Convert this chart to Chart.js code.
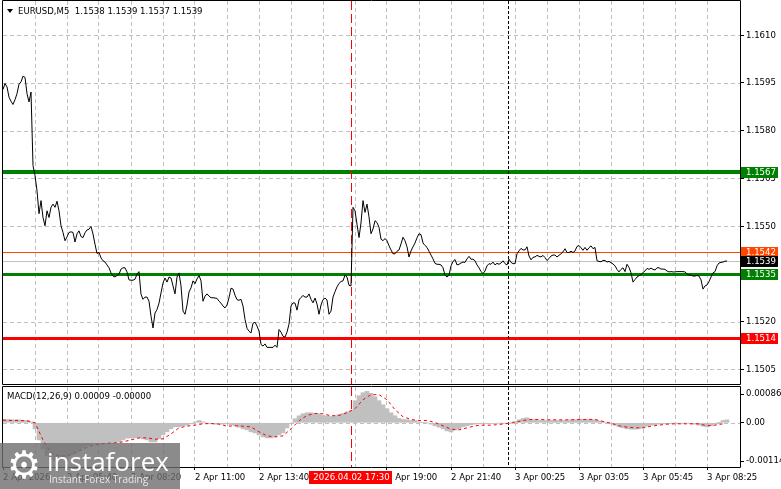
<!DOCTYPE html>
<html>
<head>
<meta charset="utf-8">
<script src="https://cdn.jsdelivr.net/npm/chart.js@4.4.0/dist/chart.umd.min.js"></script>
<style>
  body { margin: 0; background: #fff; }
  #wrap { position: relative; width: 781px; height: 489px; overflow: hidden;
          font-family: 'DejaVu Sans Condensed', 'DejaVu Sans', sans-serif; }
  #main { position: absolute; left: 0; top: 0; }
  #macd { position: absolute; left: 0; top: 386px; }
  .txt { position: absolute; font-size: 9.5px; line-height: 11px; color: #000; white-space: pre; }
  .tri { position: absolute; left: 7px; top: 9px; width: 0; height: 0;
         border-left: 3px solid transparent; border-right: 3px solid transparent; border-top: 4px solid #000; }
  #logo { position: absolute; left: 0; top: 443px; width: 180px; height: 46px; background: rgba(110,110,110,0.8); }
  #logo .gear { position: absolute; left: 5px; top: 3px; width: 38px; height: 38px; font: 38px/38px 'DejaVu Sans', sans-serif;
                color: #fff; text-align: center; }
  #logo .brand { position: absolute; left: 47px; top: 5px; font: 26px/26px 'Open Sans', sans-serif; color: #fff; }
  #logo .slogan { position: absolute; left: 49px; top: 31px; font: 10px/10px 'Open Sans', sans-serif; color: #e8e8e8; white-space: pre; }
</style>
</head>
<body>
<div id="wrap">
  <canvas id="main" width="781" height="386"></canvas>
  <canvas id="macd" width="781" height="103"></canvas>
  <div class="tri"></div>
  <div class="txt" style="left:18px;top:5px">EURUSD,M5  1.1538 1.1539 1.1537 1.1539</div>
  <div class="txt" style="left:7px;top:390px">MACD(12,26,9) 0.00009 -0.00000</div>
  <div id="logo">
    <div class="gear">&#9881;</div>
    <div class="brand">instaforex</div>
    <div class="slogan">Instant Forex Trading</div>
  </div>
</div>
<script>
// close price of every M5 bar (bar 0 = 2 Apr 03:00)
const closes = [
  1.15929,1.15948,1.15937,1.15905,1.15892,1.15882,1.15897,1.15916,1.15946,1.15953,
  1.15971,1.15967,1.15916,1.15890,1.15921,1.15690,1.15659,1.15611,1.15539,1.15580,
  1.15527,1.15501,1.15548,1.15527,1.15559,1.15569,1.15559,1.15578,1.15548,1.15501,
  1.15480,1.15454,1.15466,1.15480,1.15482,1.15480,1.15450,1.15476,1.15485,1.15467,
  1.15464,1.15479,1.15488,1.15490,1.15499,1.15475,1.15443,1.15414,1.15417,1.15400,
  1.15391,1.15387,1.15378,1.15369,1.15353,1.15343,1.15340,1.15345,1.15349,1.15365,
  1.15369,1.15369,1.15356,1.15331,1.15330,1.15330,1.15333,1.15349,1.15357,1.15286,
  1.15270,1.15277,1.15277,1.15264,1.15217,1.15180,1.15227,1.15238,1.15258,1.15290,
  1.15321,1.15337,1.15324,1.15340,1.15337,1.15312,1.15287,1.15340,1.15353,1.15312,
  1.15233,1.15223,1.15252,1.15293,1.15306,1.15328,1.15319,1.15334,1.15345,1.15328,
  1.15264,1.15280,1.15287,1.15280,1.15275,1.15275,1.15274,1.15273,1.15264,1.15258,
  1.15249,1.15243,1.15252,1.15275,1.15305,1.15302,1.15283,1.15269,1.15267,1.15270,
  1.15249,1.15207,1.15179,1.15170,1.15164,1.15195,1.15198,1.15186,1.15170,1.15128,
  1.15123,1.15130,1.15119,1.15119,1.15119,1.15119,1.15126,1.15119,1.15175,1.15167,
  1.15154,1.15151,1.15167,1.15192,1.15249,1.15259,1.15258,1.15236,1.15268,1.15276,
  1.15282,1.15277,1.15277,1.15287,1.15270,1.15259,1.15274,1.15255,1.15223,1.15252,
  1.15269,1.15274,1.15268,1.15223,1.15233,1.15277,1.15294,1.15309,1.15320,1.15326,
  1.15328,1.15346,1.15340,1.15314,1.15312,1.15559,1.15548,1.15506,1.15464,1.15510,
  1.15580,1.15543,1.15569,1.15529,1.15476,1.15491,1.15517,1.15511,1.15496,1.15459,
  1.15454,1.15461,1.15454,1.15438,1.15425,1.15413,1.15413,1.15421,1.15425,1.15444,
  1.15465,1.15454,1.15435,1.15403,1.15422,1.15435,1.15447,1.15463,1.15476,1.15473,
  1.15447,1.15439,1.15433,1.15421,1.15409,1.15397,1.15383,1.15380,1.15380,1.15378,
  1.15369,1.15346,1.15340,1.15346,1.15375,1.15389,1.15395,1.15378,1.15380,1.15384,
  1.15387,1.15386,1.15397,1.15405,1.15396,1.15396,1.15391,1.15378,1.15369,1.15357,
  1.15351,1.15359,1.15375,1.15382,1.15380,1.15387,1.15378,1.15383,1.15380,1.15384,
  1.15391,1.15382,1.15378,1.15396,1.15386,1.15382,1.15382,1.15413,1.15422,1.15430,
  1.15425,1.15425,1.15435,1.15406,1.15394,1.15402,1.15403,1.15408,1.15405,1.15403,
  1.15408,1.15401,1.15392,1.15398,1.15406,1.15409,1.15409,1.15403,1.15408,1.15413,
  1.15419,1.15429,1.15417,1.15417,1.15421,1.15417,1.15422,1.15436,1.15439,1.15432,
  1.15424,1.15433,1.15424,1.15432,1.15438,1.15429,1.15433,1.15391,1.15389,1.15388,
  1.15392,1.15392,1.15387,1.15389,1.15385,1.15381,1.15375,1.15364,1.15356,1.15364,
  1.15369,1.15357,1.15380,1.15370,1.15353,1.15324,1.15332,1.15340,1.15344,1.15348,
  1.15354,1.15359,1.15367,1.15364,1.15368,1.15364,1.15362,1.15369,1.15369,1.15365,
  1.15365,1.15364,1.15359,1.15356,1.15357,1.15356,1.15356,1.15357,1.15357,1.15357,
  1.15357,1.15356,1.15350,1.15346,1.15346,1.15343,1.15343,1.15345,1.15343,1.15331,
  1.15302,1.15312,1.15315,1.15326,1.15340,1.15353,1.15357,1.15375,1.15384,1.15386,
  1.15387,1.15390,1.15390
];

// MACD histogram, one value every 2 bars
const macdHist = [
  0.00010,0.00010,0.00009,0.00009,0.00009,0.00007,0.00007,0.00003,-0.00018,-0.00051,
  -0.00078,-0.00099,-0.00110,-0.00113,-0.00110,-0.00107,-0.00101,-0.00096,-0.00090,-0.00084,
  -0.00075,-0.00069,-0.00066,-0.00063,-0.00063,-0.00063,-0.00061,-0.00061,-0.00060,-0.00057,
  -0.00051,-0.00046,-0.00045,-0.00045,-0.00045,-0.00048,-0.00051,-0.00057,-0.00057,-0.00048,
  -0.00036,-0.00027,-0.00018,-0.00012,-0.00012,-0.00009,-0.00007,-0.00003,0.00003,0.00007,
  0.00003,-0.00001,-0.00003,-0.00004,-0.00003,-0.00004,-0.00003,-0.00006,-0.00009,-0.00013,
  -0.00018,-0.00021,-0.00027,-0.00030,-0.00036,-0.00042,-0.00045,-0.00045,-0.00042,-0.00036,
  -0.00030,-0.00015,-0.00003,0.00012,0.00021,0.00027,0.00030,0.00030,0.00028,0.00027,
  0.00022,0.00021,0.00019,0.00021,0.00025,0.00028,0.00033,0.00036,0.00066,0.00081,
  0.00090,0.00094,0.00088,0.00078,0.00066,0.00054,0.00042,0.00030,0.00021,0.00013,
  0.00010,0.00009,0.00007,0.00007,0.00003,0.00001,0,-0.00004,-0.00009,-0.00013,
  -0.00018,-0.00024,-0.00027,-0.00022,-0.00018,-0.00012,-0.00009,-0.00006,-0.00004,-0.00003,
  -0.00003,-0.00003,-0.00002,-0.00002,-0.00001,-0.00001,-0.00001,0,0.00004,0.00009,
  0.00013,0.00015,0.00010,0.00009,0.00007,0.00007,0.00007,0.00007,0.00007,0.00007,
  0.00007,0.00007,0.00009,0.00009,0.00010,0.00010,0.00010,0.00009,0.00009,0.00006,
  0.00003,0,-0.00003,-0.00007,-0.00012,-0.00015,-0.00018,-0.00019,-0.00019,-0.00018,
  -0.00015,-0.00010,-0.00007,-0.00006,-0.00004,-0.00003,-0.00003,-0.00001,-0.00001,-0.00001,
  -0.00001,-0.00001,-0.00003,-0.00004,-0.00007,-0.00010,-0.00012,-0.00009,-0.00004,0.00001,
  0.00007,0.00009
];

// MACD signal line, one value every 4 bars
const macdSignal = [
  0.00008,0.00007,0.00007,0.00006,0,-0.00051,-0.00090,-0.00099,-0.00099,-0.00090,
  -0.00078,-0.00069,-0.00064,-0.00061,-0.00060,-0.00057,-0.00051,-0.00045,-0.00045,-0.00049,
  -0.00048,-0.00033,-0.00015,-0.00010,-0.00007,-0.00003,-0.00002,-0.00004,-0.00010,-0.00009,
  -0.00010,-0.00012,-0.00027,-0.00039,-0.00042,-0.00039,-0.00018,0.00006,0.00022,0.00028,
  0.00027,0.00021,0.00022,0.00030,0.00042,0.00069,0.00084,0.00084,0.00069,0.00039,
  0.00018,0.00010,0.00007,0.00007,0.00001,-0.00009,-0.00019,-0.00021,-0.00015,-0.00009,
  -0.00007,-0.00007,-0.00005,-0.00002,0.00001,0.00007,0.00010,0.00010,0.00009,0.00009,
  0.00009,0.00009,0.00010,0.00010,0.00010,0.00004,-0.00001,-0.00009,-0.00013,-0.00015,
  -0.00015,-0.00010,-0.00007,-0.00004,-0.00003,-0.00003,-0.00003,-0.00003,-0.00009,-0.00007,
  -0.00003
];
const histStep = 2;
const signalStep = 4;

const timeLabels = ['2 Apr 2026', '2 Apr 05:40', '2 Apr 08:20', '2 Apr 11:00', '2 Apr 13:40', '2 Apr 16:20',
                    '2 Apr 19:00', '2 Apr 21:40', '3 Apr 00:25', '3 Apr 03:05', '3 Apr 05:45', '3 Apr 08:25'];
const priceTicks = [1.1505, 1.1520, 1.1535, 1.1550, 1.1565, 1.1580, 1.1595, 1.1610];
const macdTicks = [-0.00114, 0, 0.00086];
const levelPrices = [1.1567, 1.1542, 1.1539, 1.1535, 1.15147];
const levelTags = ['1.1567', '1.1542', '1.1539', '1.1535', '1.1514'];
const crosshairBar = 174;
const crosshairTime = '2026.04.02 17:30';
const daySeparatorBar = 252.5;

// ---- look ----
const FONT = "'DejaVu Sans Condensed', 'DejaVu Sans', sans-serif";
const FSIZE = 9.5;
const GRID = '#c0c0c0';
const NONE = 'rgba(0,0,0,0)';
const BAR_MAX = 368.5;
const gridBars = [];
for (let b = 16; b <= 352; b += 16) gridBars.push(b);
const labelBars = [0].concat(gridBars);

const levelStyle = [
  { color: '#008000', width: 4, tag: '#008000' },
  { color: '#ff4500', width: 1, tag: '#ff4500' },
  { color: '#c0c0c0', width: 1, tag: '#000000' },
  { color: '#008000', width: 3, tag: '#008000' },
  { color: '#ff0000', width: 3, tag: '#ff0000' }
];

Chart.defaults.font.family = FONT;
Chart.defaults.font.size = FSIZE;
Chart.defaults.color = '#000';

// keep the plot area exactly where the terminal has it
function fixY(s) { s.width = 41; s.paddingTop = 0; s.paddingBottom = 0; }
function fixX(h) { return s => { s.height = h; s.paddingLeft = 0; s.paddingRight = 0; }; }

function clipArea(ctx, a) {
  ctx.beginPath(); ctx.rect(a.left, a.top, a.right - a.left, a.bottom - a.top); ctx.clip();
}

function hGrid(chart, values) {
  const { ctx, chartArea: a, scales: { y } } = chart;
  ctx.save();
  clipArea(ctx, a);
  ctx.strokeStyle = GRID;
  ctx.lineWidth = 1;
  ctx.setLineDash([4, 3]);
  values.forEach(v => {
    const py = Math.round(y.getPixelForValue(v)) + 0.5;
    ctx.beginPath(); ctx.moveTo(a.left, py); ctx.lineTo(a.right, py); ctx.stroke();
  });
  ctx.restore();
}

function markers(chart) {
  const { ctx, chartArea: a, scales: { x } } = chart;
  ctx.save();
  ctx.lineWidth = 1;
  let px = Math.round(x.getPixelForValue(crosshairBar)) + 0.5;
  ctx.strokeStyle = '#ff0000';
  ctx.setLineDash([9, 4]);
  ctx.beginPath(); ctx.moveTo(px, a.top); ctx.lineTo(px, a.bottom); ctx.stroke();
  px = Math.round(x.getPixelForValue(daySeparatorBar)) + 0.5;
  ctx.strokeStyle = '#000';
  ctx.setLineDash([3, 2]);
  ctx.beginPath(); ctx.moveTo(px, a.top); ctx.lineTo(px, a.bottom); ctx.stroke();
  ctx.restore();
}

function frame(chart) {
  const { ctx, chartArea: a } = chart;
  ctx.save();
  ctx.strokeStyle = '#000';
  ctx.lineWidth = 1;
  ctx.setLineDash([]);
  ctx.beginPath();
  ctx.moveTo(a.left - 0.5, a.top - 0.5); ctx.lineTo(a.right + 0.5, a.top - 0.5);
  ctx.lineTo(a.right + 0.5, a.bottom + 0.5); ctx.lineTo(a.left - 0.5, a.bottom + 0.5);
  ctx.closePath();
  ctx.stroke();
  ctx.restore();
}

const mainDecor = {
  id: 'mainDecor',
  beforeDatasetsDraw(chart) {
    const { ctx, chartArea: a, scales: { y } } = chart;
    hGrid(chart, priceTicks);
    ctx.save();
    clipArea(ctx, a);
    levelPrices.forEach((p, i) => {
      const s = levelStyle[i];
      let py = Math.round(y.getPixelForValue(p));
      if (s.width % 2) py += 0.5;
      ctx.strokeStyle = s.color;
      ctx.lineWidth = s.width;
      ctx.beginPath(); ctx.moveTo(a.left, py); ctx.lineTo(a.right, py); ctx.stroke();
    });
    ctx.restore();
    markers(chart);
  },
  afterDraw(chart) {
    const { ctx, chartArea: a, scales: { y } } = chart;
    frame(chart);
    ctx.save();
    ctx.font = FSIZE + 'px ' + FONT;
    ctx.textBaseline = 'middle';
    levelPrices.forEach((p, i) => {
      const py = Math.round(y.getPixelForValue(p));
      ctx.fillStyle = levelStyle[i].tag;
      ctx.fillRect(a.right + 1, py - 5, 37, 11);
      ctx.fillStyle = '#fff';
      ctx.fillText(levelTags[i], a.right + 6, py + 0.5);
    });
    ctx.restore();
  }
};

const macdDecor = {
  id: 'macdDecor',
  beforeDatasetsDraw(chart) {
    hGrid(chart, [0]);
    markers(chart);
  },
  afterDraw(chart) {
    const { ctx, chartArea: a, scales: { x } } = chart;
    frame(chart);
    ctx.save();
    ctx.font = FSIZE + 'px ' + FONT;
    const w = Math.ceil(ctx.measureText(crosshairTime).width) + 6;
    const cx = Math.round(x.getPixelForValue(crosshairBar));
    ctx.fillStyle = '#ff0000';
    ctx.fillRect(cx - Math.round(w / 2), a.bottom + 4, w, 13);
    ctx.fillStyle = '#fff';
    ctx.textBaseline = 'middle';
    ctx.textAlign = 'center';
    ctx.fillText(crosshairTime, cx + 0.5, a.bottom + 10.5);
    ctx.restore();
  }
};

new Chart(document.getElementById('main'), {
  type: 'line',
  data: {
    datasets: [{
      data: closes.map((v, i) => ({ x: i, y: v })),
      borderColor: '#000', borderWidth: 1, pointRadius: 0, tension: 0, fill: false
    }]
  },
  options: {
    responsive: false, animation: false, events: [],
    layout: { padding: { left: 3, top: 1, right: 0, bottom: 0 } },
    plugins: { legend: { display: false }, tooltip: { enabled: false } },
    scales: {
      x: {
        type: 'linear', min: 0, max: BAR_MAX,
        afterBuildTicks: s => { s.ticks = gridBars.map(v => ({ value: v })); },
        afterFit: fixX(2),
        ticks: { display: false },
        grid: { color: GRID, drawTicks: false, tickLength: 0 },
        border: { display: false, dash: [4, 3] }
      },
      y: {
        position: 'right', min: 1.15004, max: 1.16207,
        afterBuildTicks: s => { s.ticks = priceTicks.map(v => ({ value: v })); },
        afterFit: fixY,
        ticks: { callback: v => v.toFixed(4), padding: 2, autoSkip: false },
        grid: { drawOnChartArea: false, tickColor: '#000', tickLength: 4, drawTicks: true },
        border: { display: false }
      }
    }
  },
  plugins: [mainDecor]
});

new Chart(document.getElementById('macd'), {
  type: 'bar',
  data: {
    datasets: [
      {
        type: 'line', order: 1,
        data: macdSignal.map((v, k) => ({ x: k * signalStep, y: v })),
        borderColor: '#ff0000', borderWidth: 1, borderDash: [3, 3], pointRadius: 0, tension: 0, fill: false
      },
      {
        type: 'bar', order: 2,
        data: macdHist.map((v, k) => ({ x: k * histStep, y: v })),
        backgroundColor: '#c0c0c0', borderWidth: 0, barThickness: 4
      }
    ]
  },
  options: {
    responsive: false, animation: false, events: [],
    layout: { padding: { left: 3, top: 1, right: 0, bottom: 0 } },
    plugins: { legend: { display: false }, tooltip: { enabled: false } },
    scales: {
      x: {
        type: 'linear', min: 0, max: BAR_MAX, offset: false,
        afterBuildTicks: s => { s.ticks = labelBars.map(v => ({ value: v })); },
        afterFit: fixX(22),
        ticks: {
          autoSkip: false, maxRotation: 0, minRotation: 0, align: 'start', padding: 2,
          callback: v => (v % 32 === 0 ? timeLabels[v / 32] : '')
        },
        grid: {
          offset: false,
          color: c => (c.tick && c.tick.value === 0) ? NONE : GRID,
          tickColor: c => (c.tick && c.tick.value % 32 === 0) ? '#000' : NONE,
          tickLength: 3, drawTicks: true
        },
        border: { display: false, dash: [4, 3] }
      },
      y: {
        position: 'right', min: -0.001319, max: 0.001069,
        afterBuildTicks: s => { s.ticks = macdTicks.map(v => ({ value: v })); },
        afterFit: fixY,
        ticks: { callback: v => (v === 0 ? '0.00' : v.toFixed(5)), padding: 2, autoSkip: false },
        grid: { drawOnChartArea: false, tickColor: '#000', tickLength: 4, drawTicks: true },
        border: { display: false }
      }
    }
  },
  plugins: [macdDecor]
});
</script>
</body>
</html>
